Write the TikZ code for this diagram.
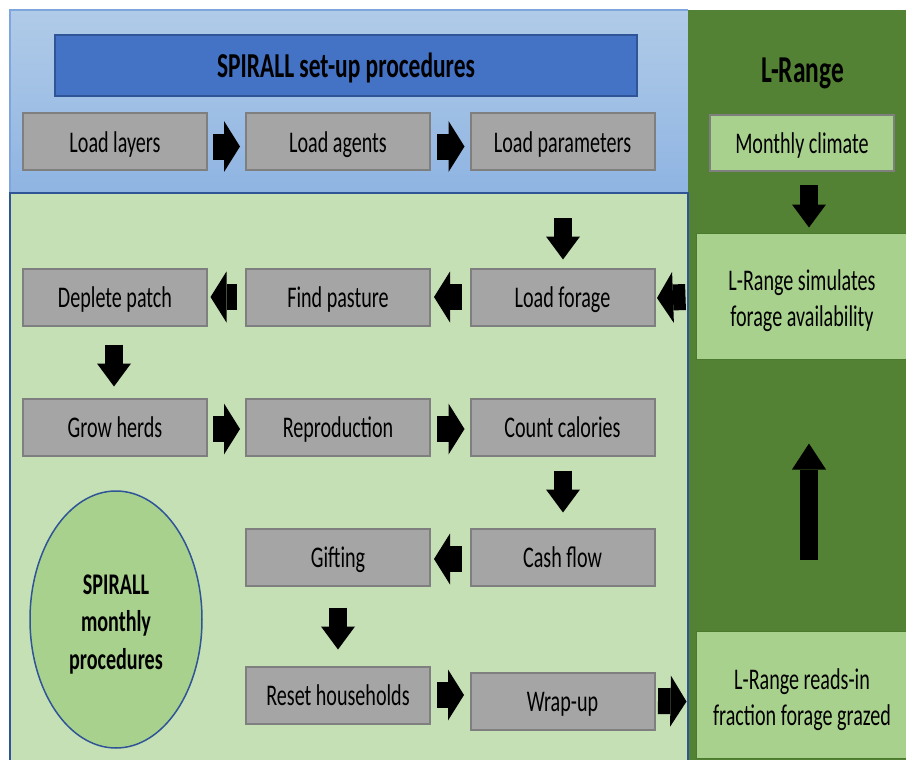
\documentclass[tikz,border=0pt]{standalone}
\usepackage{fontspec}
\setmainfont{Carlito}[FakeStretch=0.67]
\usetikzlibrary{arrows.meta,shapes.geometric}
\definecolor{bluetop}{HTML}{B0CBE8}
\definecolor{bluebot}{HTML}{8FB4E2}
\definecolor{titleblue}{HTML}{4472C4}
\definecolor{darkblue}{HTML}{2F5597}
\definecolor{boxgray}{HTML}{A5A5A5}
\definecolor{boxedge}{HTML}{7F7F7F}
\definecolor{lightgreen}{HTML}{C5E0B4}
\definecolor{darkgreen}{HTML}{548235}
\definecolor{midgreen}{HTML}{A9D18E}
\definecolor{greenedge}{HTML}{4B7A2E}
\definecolor{paleblueedge}{HTML}{7EA6DC}
\tikzset{
  txt/.style={font=\fontsize{30}{36}\selectfont, text=black, align=center, inner sep=0pt, text height=28pt, text depth=7pt},
  gbox/.style={txt, draw=boxedge, fill=boxgray, line width=2pt, minimum width=184pt, minimum height=57pt},
  lbox/.style={txt, text height=68pt, fill=midgreen, minimum width=212pt, minimum height=126pt, draw=greenedge, line width=1pt},
  harrow/.style={line width=26pt, -{Triangle[length=16pt,width=51pt,line width=0pt]}},
  varrow/.style={line width=18pt, -{Triangle[length=23pt,width=34pt,line width=0pt]}},
}
\begin{document}
\begin{tikzpicture}[x=1pt,y=-1pt]
\useasboundingbox (0,0) rectangle (906,760);
\fill[white] (0,0) rectangle (906,760);
% regions
\shade[top color=bluetop, bottom color=bluebot] (10,10) rectangle (688,193);
\draw[paleblueedge, line width=1.2pt] (10,193) -- (10,10) -- (688,10);
\fill[darkgreen] (688,10) rectangle (906,760);
\draw[darkblue, line width=1.5pt, fill=lightgreen] (10,762) -- (10,193) -- (688,193) -- (688,762);
% title
\node[draw=darkblue, fill=titleblue, line width=2pt, minimum width=582pt, minimum height=61pt, inner sep=0pt,
      text height=32pt, text depth=8pt,
      font=\fontsize{35}{40}\selectfont\bfseries] (title) at (346,65.5) {SPIRALL set-up procedures};
\node[inner sep=0pt, text height=34pt, text depth=9pt, font=\fontsize{38}{42}\selectfont\bfseries] (lrange) at (803,70.5) {L-Range};
% setup row
\node[gbox] (ll) at (115,141.5) {Load layers};
\node[gbox] (la) at (338,141.5) {Load agents};
\node[gbox] (lp) at (562.5,141.5) {Load parameters};
% monthly rows
\node[gbox] (dp) at (115,297) {Deplete patch};
\node[gbox] (fp) at (338,297) {Find pasture};
\node[gbox] (lf) at (562.5,297) {Load forage};
\node[gbox] (gh) at (115,427) {Grow herds};
\node[gbox] (rep) at (338,427) {Reproduction};
\node[gbox] (cc) at (562.5,427) {Count calories};
\node[gbox] (gift) at (338,557) {Gifting};
\node[gbox] (cash) at (562.5,557) {Cash flow};
\node[gbox] (rh) at (338,695) {Reset households};
\node[gbox] (wu) at (562.5,701) {Wrap-up};
% ellipse
\node[ellipse, draw=darkblue, line width=1.5pt, fill=midgreen, minimum width=172pt, minimum height=257pt, inner sep=0pt,
      align=center, text height=106pt, text depth=7pt, font=\fontsize{30}{37.5}\selectfont\bfseries] (spm) at (116,619.5) {SPIRALL\\monthly\\procedures};
% L-Range boxes
\node[txt, fill=midgreen, draw=boxedge, line width=2pt, minimum width=184pt, minimum height=56pt] (mc) at (802,143) {Monthly climate};
\node[lbox] (sim) at (802,296) {L-Range simulates\\forage availability};
\node[lbox, minimum height=127pt] (reads) at (802,694.5) {L-Range reads-in\\fraction forage grazed};
% arrows
\draw[harrow] ([shift={(5,5)}]ll.east) -- ([shift={(-5,5)}]la.west);
\draw[harrow] ([shift={(6,5)}]la.east) -- ([shift={(-5,5)}]lp.west);
\draw[harrow] ([shift={(-10,1)}]sim.west) -- ([shift={(1.5,1)}]lf.east);
\draw[harrow] ([shift={(-8,0)}]lf.west) -- ([shift={(3,0)}]fp.east);
\draw[harrow] ([shift={(-8,0)}]fp.west) -- ([shift={(2.5,0)}]dp.east);
\draw[harrow] ([shift={(5,2)}]gh.east) -- ([shift={(-5,2)}]rep.west);
\draw[harrow] ([shift={(6,2)}]rep.east) -- ([shift={(-5,2)}]cc.west);
\draw[harrow] ([shift={(-8,2)}]cash.west) -- ([shift={(3,2)}]gift.east);
\draw[harrow] ([shift={(6,0)}]rh.east) -- ([shift={(-5.5,-6)}]wu.west);
\draw[harrow] ([shift={(2.5,0)}]wu.east) -- ([shift={(-9,7)}]reads.west);
\draw[varrow] ([shift={(0.5,47)}]lp.south) -- ([shift={(0.5,-8)}]lf.north);
\draw[varrow] ([shift={(-1,18)}]dp.south) -- ([shift={(-1,-11)}]gh.north);
\draw[varrow] ([shift={(0.5,14)}]cc.south) -- ([shift={(0.5,-15)}]cash.north);
\draw[varrow] ([shift={(0,21)}]gift.south) -- ([shift={(0,-16)}]rh.north);
\draw[varrow] ([shift={(7,13)}]mc.south) -- ([shift={(7,-5)}]sim.north);
\draw[line width=18pt, -{Triangle[length=26pt,width=34pt,line width=0pt]}] ([shift={(7,-71)}]reads.north) -- ([shift={(7,84)}]sim.south);
\end{tikzpicture}
\end{document}
